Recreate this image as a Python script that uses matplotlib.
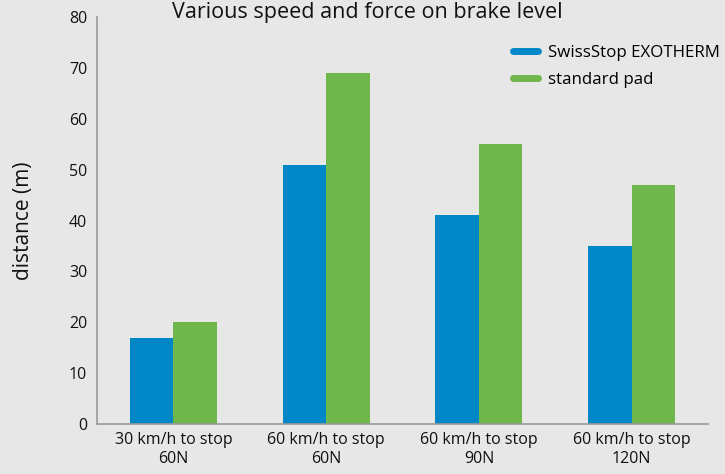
import numpy as np
import matplotlib.pyplot as plt
from matplotlib.lines import Line2D

categories = ["30 km/h to stop\n60N", "60 km/h to stop\n60N",
              "60 km/h to stop\n90N", "60 km/h to stop\n120N"]
exotherm = [17, 51, 41, 35]
standard = [20, 69, 55, 47]
series_names = ["SwissStop EXOTHERM", "standard pad"]
colors = ["#0087c7", "#6fb74b"]

plt.rcParams['font.family'] = ['Open Sans', 'DejaVu Sans']

fig = plt.figure(figsize=(7.25, 4.74), dpi=100)
fig.patch.set_facecolor("#e7e7e7")
ax = fig.add_axes([0.1338, 0.1055, 0.8428, 0.8585])
ax.set_facecolor("none")

x = np.arange(len(categories))
w = 0.285
ax.bar(x - w / 2, exotherm, w, color=colors[0], label=series_names[0])
ax.bar(x + w / 2, standard, w, color=colors[1], label=series_names[1])

ax.set_xlim(-0.5, len(categories) - 0.5)
ax.set_ylim(0, 80)
ax.set_yticks(range(0, 81, 10))
ax.set_xticks(x)
ax.set_xticklabels(categories, fontsize=11.5, linespacing=1.25)
ax.tick_params(axis='both', length=0, colors="#111111")
ax.tick_params(axis='y', pad=7, labelsize=11.5)
ax.tick_params(axis='x', pad=6)

for s in ["top", "right"]:
    ax.spines[s].set_visible(False)
for s in ["left", "bottom"]:
    ax.spines[s].set_color("#9a9a9a")
    ax.spines[s].set_linewidth(1.2)

ax.set_ylabel("distance (m)", fontsize=15, labelpad=25, color="#111111")

fig.text(0.507, 0.962, "Various speed and force on brake level",
         ha='center', va='baseline', fontsize=15.5, color="#111111")

handles = [Line2D([0], [0], color=c, lw=5, solid_capstyle='round') for c in colors]
fig.legend(handles, series_names, loc='upper left', bbox_to_anchor=(0.707, 0.905),
           frameon=False, fontsize=12.2, handlelength=1.5, labelspacing=0.65,
           handletextpad=0.6, borderpad=0, borderaxespad=0)

fig.savefig("out.png", dpi=100, facecolor=fig.get_facecolor())
